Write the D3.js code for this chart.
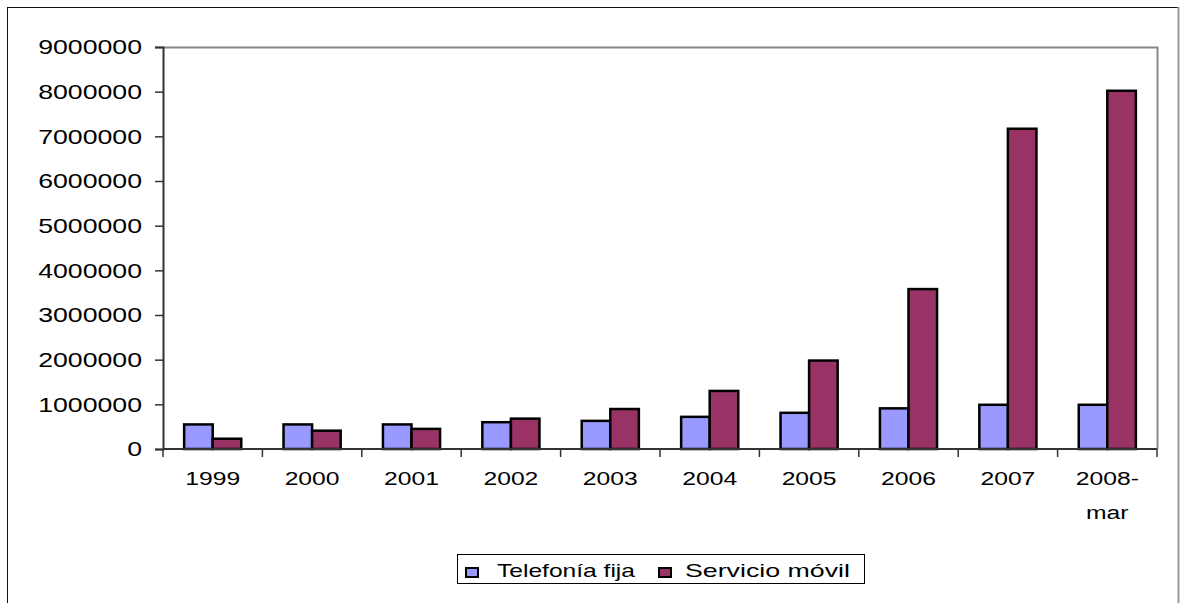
<!DOCTYPE html>
<html>
<head>
	<meta charset="utf-8">
	<script src="https://cdnjs.cloudflare.com/ajax/libs/d3/7.8.5/d3.min.js"></script>
	<title>Telefonía fija vs Servicio móvil</title>
	<style>
		body { margin: 0; background: #fff; }
		text { font-family: "Liberation Sans", Arial, sans-serif; fill: #000; }
	</style>
</head>
<body>
<script>

	/*------ data ------*/
	var categories = ['1999', '2000', '2001', '2002', '2003', '2004', '2005', '2006', '2007', '2008-mar'];
	var fija  = [550000, 550000, 550000, 600000, 630000, 720000, 810000, 910000, 990000, 990000];
	var movil = [230000, 410000, 450000, 680000, 895000, 1300000, 1980000, 3580000, 7170000, 8020000];
	var yTicks = [0, 1000000, 2000000, 3000000, 4000000, 5000000, 6000000, 7000000, 8000000, 9000000];
	var seriesNames = ['Telefonía fija', 'Servicio móvil'];
	var seriesColors = ['#9999ff', '#993366'];

	var svgWidth = 1180, svgHeight = 603;
	var plotL = 163, plotR = 1157, plotT = 47, plotB = 449;
	// the original text is drawn wide, so labels get stretched horizontally
	var yStretch = 1.27, xStretch = 1.3;

	var svg = d3.select('body')
		.append('svg')
		.attr('width', svgWidth)
		.attr('height', svgHeight);

	// outer chart frame
	svg.append('rect')
		.attr('x', 7.5).attr('y', 7.5)
		.attr('width', 1171).attr('height', 620)
		.attr('fill', 'none')
		.attr('stroke', '#111')
		.attr('stroke-width', 1);
	svg.append('line')
		.attr('x1', 1178.5).attr('x2', 1178.5)
		.attr('y1', 7).attr('y2', 603)
		.attr('stroke', '#999').attr('stroke-width', 2);

	var xScale = d3.scaleBand()
		.domain(categories)
		.range([plotL, plotR]);

	var inner = d3.scaleBand()
		.domain([0, 1])
		.range([0, xScale.bandwidth()])
		.paddingInner(0)
		.paddingOuter(0.74);

	var yScale = d3.scaleLinear()
		.domain([0, 9000000])
		.range([plotB, plotT]);

	// plot frame (top and right, gray)
	svg.append('path')
		.attr('d', 'M' + plotL + ',' + (plotT + 0.5) + 'H' + (plotR + 0.5) + 'V' + plotB)
		.attr('fill', 'none')
		.attr('stroke', '#888')
		.attr('stroke-width', 2);

	// bars
	var rows = categories.map(function (c, i) { return { cat: c, vals: [fija[i], movil[i]] }; });

	var groups = svg.selectAll('g.cat')
		.data(rows)
		.enter()
		.append('g')
		.attr('class', 'cat')
		.attr('transform', function (d) { return 'translate(' + xScale(d.cat) + ',0)'; });

	groups.selectAll('rect')
		.data(function (d) { return d.vals; })
		.enter()
		.append('rect')
		.attr('x', function (d, i) { return inner(i); })
		.attr('y', function (d) { return yScale(d); })
		.attr('width', inner.bandwidth())
		.attr('height', function (d) { return plotB - yScale(d); })
		.attr('fill', function (d, i) { return seriesColors[i]; })
		.attr('stroke', '#000')
		.attr('stroke-width', 2.5);

	// y axis
	var yAxis = svg.append('g')
		.attr('transform', 'translate(' + plotL + ',0)')
		.call(d3.axisLeft(yScale)
			.tickValues(yTicks)
			.tickFormat(d3.format('d'))
			.tickSize(8));
	yAxis.select('.domain').attr('stroke', '#333').attr('stroke-width', 2);
	yAxis.selectAll('.tick line').attr('stroke', '#333').attr('stroke-width', 1.5);
	yAxis.selectAll('text')
		.attr('font-size', 21)
		.attr('font-family', '"Liberation Sans", Arial, sans-serif')
		.attr('fill', '#000')
		.attr('x', -21 / yStretch)
		.attr('transform', 'scale(' + yStretch + ',1)');

	// x axis
	var xAxis = svg.append('g')
		.attr('transform', 'translate(0,' + plotB + ')');
	xAxis.append('line')
		.attr('x1', plotL).attr('x2', plotR)
		.attr('y1', 0).attr('y2', 0)
		.attr('stroke', '#333').attr('stroke-width', 2);
	xAxis.selectAll('line.tk')
		.data(categories.concat(['end']))
		.enter()
		.append('line')
		.attr('class', 'tk')
		.attr('x1', function (d) { return d === 'end' ? plotR : xScale(d); })
		.attr('x2', function (d) { return d === 'end' ? plotR : xScale(d); })
		.attr('y1', 0).attr('y2', 8)
		.attr('stroke', '#333').attr('stroke-width', 1.5);

	xAxis.selectAll('text.lbl')
		.data(categories)
		.enter()
		.append('text')
		.attr('class', 'lbl')
		.attr('y', 36)
		.attr('text-anchor', 'middle')
		.attr('font-size', 19)
		.attr('transform', 'scale(' + xStretch + ',1)')
		.each(function (d) {
			var parts = d === '2008-mar' ? ['2008-', 'mar'] : [d];
			var cx = (xScale(d) + xScale.bandwidth() / 2) / xStretch;
			var t = d3.select(this);
			parts.forEach(function (p, k) {
				t.append('tspan')
					.attr('x', cx)
					.attr('dy', k === 0 ? 0 : 34)
					.text(p);
			});
		});

	// legend
	var legend = svg.append('g').attr('transform', 'translate(457,554)');
	legend.append('rect')
		.attr('x', 0.5).attr('y', 0.5)
		.attr('width', 407).attr('height', 29)
		.attr('fill', '#fff')
		.attr('stroke', '#000')
		.attr('stroke-width', 1);
	var legX = [9, 202];
	var legTextX = [40, 228];
	var legTextW = [138, 165];
	seriesNames.forEach(function (name, i) {
		legend.append('rect')
			.attr('x', legX[i]).attr('y', 14)
			.attr('width', 12).attr('height', 9)
			.attr('fill', seriesColors[i])
			.attr('stroke', '#000')
			.attr('stroke-width', 2);
		legend.append('text')
			.attr('x', legTextX[i])
			.attr('y', 23)
			.attr('font-size', 19)
			.attr('textLength', legTextW[i])
			.attr('lengthAdjust', 'spacingAndGlyphs')
			.text(name);
	});

</script>
</body>
</html>
